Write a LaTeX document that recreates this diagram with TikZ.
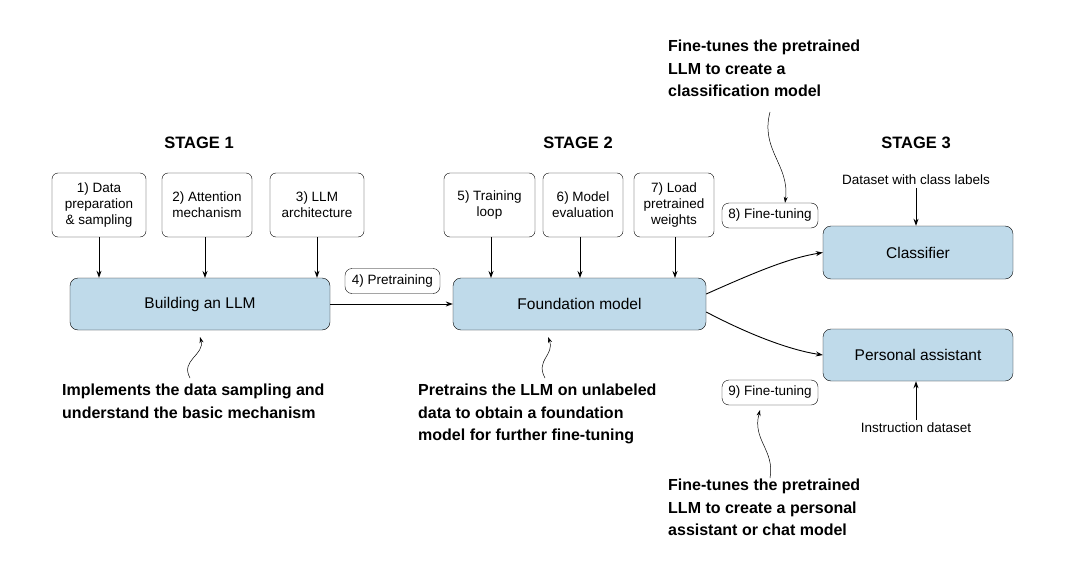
\documentclass[tikz,border=0pt]{standalone}
\usepackage{fontspec}
\setmainfont{Liberation Sans}
\usetikzlibrary{arrows.meta}
\definecolor{bluefill}{HTML}{BFDAEA}
\tikzset{
  every picture/.style={x=1pt,y=-1pt},
  small/.style={draw,rounded corners=6pt,fill=white,align=center,font=\fontsize{13.5}{16}\selectfont,inner sep=2pt},
  big/.style={draw,rounded corners=8pt,fill=bluefill,font=\fontsize{15.5}{17}\selectfont},
  tag/.style={draw,rounded corners=7pt,fill=white,font=\fontsize{13.5}{15}\selectfont,inner sep=3pt},
  stage/.style={font=\fontsize{16.5}{19}\selectfont\bfseries},
  note/.style={font=\fontsize{16}{22.5}\selectfont\bfseries,align=left,anchor=north west,inner sep=0pt},
  plain/.style={font=\fontsize{13.5}{15}\selectfont},
  arr/.style={-{Stealth[length=7pt,width=5pt]},line width=0.9pt},
  thin/.style={-{Stealth[length=6pt,width=4pt]},line width=0.5pt}
}
\begin{document}
\begin{tikzpicture}
\useasboundingbox (0,0) rectangle (1067,567);
\node[stage] (s1) at (199,143) {STAGE 1};
\node[stage] (s2) at (578,143) {STAGE 2};
\node[stage] (s3) at (916,143) {STAGE 3};
% small boxes
\node[small,minimum width=94pt,minimum height=64pt] (b1) at (99,205) {1) Data\\preparation\\\& sampling};
\node[small,minimum width=90pt,minimum height=64pt] (b2) at (207,205) {2) Attention\\mechanism};
\node[small,minimum width=94pt,minimum height=64pt] (b3) at (317,205) {3) LLM\\architecture};
\node[small,minimum width=91pt,minimum height=64pt] (b5) at (489.5,205) {5) Training\\loop};
\node[small,minimum width=80pt,minimum height=64pt] (b6) at (583,205) {6) Model\\evaluation};
\node[small,minimum width=80pt,minimum height=64pt] (b7) at (674,205) {7) Load\\pretrained\\weights};
% big boxes
\node[big,minimum width=260pt,minimum height=52pt] (llm) at (200,304) {Building an LLM};
\node[big,minimum width=253pt,minimum height=52pt] (fm) at (579.5,304) {Foundation model};
\node[big,minimum width=190pt,minimum height=53pt] (cl) at (918,252.5) {Classifier};
\node[big,minimum width=190pt,minimum height=52pt] (pa) at (918,355) {Personal assistant};
% tags
\node[tag,minimum width=95pt,minimum height=25pt] (t4) at (392.5,281) {4) Pretraining};
\node[tag,minimum width=96pt,minimum height=25pt] (t8) at (770,215.5) {8) Fine-tuning};
\node[tag,minimum width=96pt,minimum height=25pt] (t9) at (770,392.5) {9) Fine-tuning};
% arrows
\draw[arr] (b1.south) -- (b1.south |- llm.north);
\draw[arr] (b2.south -| 205,0) -- (205,278);
\draw[arr] (b3.south) -- (b3.south |- llm.north);
\draw[arr] (b5.south -| 491,0) -- (491,278);
\draw[arr] (b6.south -| 580,0) -- (580,278);
\draw[arr] (b7.south -| 675,0) -- (675,278);
\draw[arr] (llm.east) -- (fm.west);
\draw[arr] (fm.east |- 0,294) .. controls (760,270) and (790,258) .. (cl.west);
\draw[arr] (fm.east |- 0,312) .. controls (750,335) and (790,350) .. (pa.west);
% datasets
\node[plain] (d1) at (916,180) {Dataset with class labels};
\node[plain] (d2) at (916,428) {Instruction dataset};
\draw[arr] (d1.south -| 916,0) -- (cl.north -| 916,0);
\draw[arr] (d2.north -| 916,0) -- (pa.south -| 916,0);
% notes
\node[note] (n1) at (668,40) {Fine-tunes the pretrained\\LLM to create a\\classification model};
\node[note] (n2) at (62,384) {Implements the data sampling and\\understand the basic mechanism};
\node[note] (n3) at (418,384) {Pretrains the LLM on unlabeled\\data to obtain a foundation\\model for further fine-tuning};
\node[note] (n4) at (668,479) {Fine-tunes the pretrained\\LLM to create a personal\\assistant or chat model};
\coordinate (c1) at (770,112);
\coordinate (c2) at (190,378);
\coordinate (c3) at (545,378);
\coordinate (c4) at (770,478);
\draw[thin] (c1) .. controls (760,150) and (790,165) .. (t8.north -| 785,0);
\draw[thin] (c2) .. controls (180,360) and (205,355) .. (200,337);
\draw[thin] (c3) .. controls (535,360) and (555,355) .. (548,337);
\draw[thin] (c4) .. controls (775,450) and (752,440) .. (760,410);
\end{tikzpicture}
\end{document}
